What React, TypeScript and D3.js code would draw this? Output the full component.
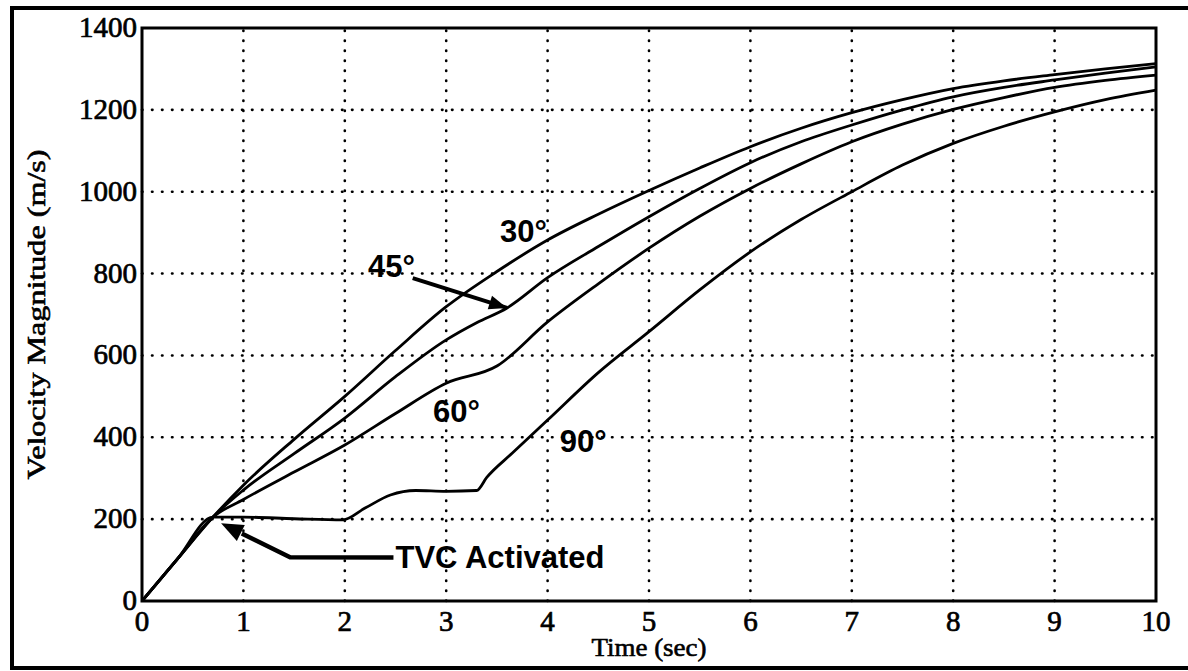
import React from "react";
import * as d3 from "d3";

// ---- data ----
const xTicks = [0, 1, 2, 3, 4, 5, 6, 7, 8, 9, 10];
const yTicks = [0, 200, 400, 600, 800, 1000, 1200, 1400];

const t30 = [0, 0.35, 0.7, 1, 1.5, 2, 2.5, 3, 3.5, 4, 4.5, 5, 5.5, 6, 6.5, 7, 7.5, 8, 8.5, 9, 9.5, 10];
const v30 = [0, 103, 205, 283, 395, 500, 612, 719, 805, 882, 945, 1003, 1058, 1110, 1155, 1193, 1225, 1252, 1271, 1286, 1300, 1313];

const t45 = [0, 0.35, 0.7, 1, 1.5, 2, 2.5, 3, 3.3, 3.6, 4, 4.5, 5, 5.5, 6, 6.5, 7, 7.5, 8, 8.5, 9, 9.5, 10];
const v45 = [0, 103, 205, 271, 360, 447, 548, 638, 680, 716, 790, 866, 939, 1008, 1071, 1122, 1163, 1200, 1232, 1255, 1273, 1290, 1305];

const t60 = [0, 0.35, 0.7, 1, 1.5, 2, 2.5, 3, 3.5, 4, 4.5, 5, 5.5, 6, 6.5, 7, 7.5, 8, 8.5, 9, 9.5, 10];
const v60 = [0, 103, 205, 248, 315, 381, 458, 532, 574, 682, 775, 862, 940, 1008, 1068, 1122, 1165, 1201, 1230, 1255, 1272, 1285];

const t90 = [0, 0.35, 0.7, 1, 1.5, 1.98, 2.2, 2.45, 2.7, 3.0, 3.3, 3.4, 3.65, 4, 4.5, 5, 5.5, 6, 6.5, 7, 7.5, 8, 8.5, 9, 9.5, 10];
const v90 = [0, 103, 205, 205, 201, 198, 227, 259, 270, 268, 270, 302, 361, 442, 558, 658, 760, 853, 932, 1000, 1065, 1118, 1160, 1195, 1225, 1248];

const series = [
  { t: t30, v: v30 },
  { t: t45, v: v45 },
  { t: t60, v: v60 },
  { t: t90, v: v90 },
];

// annotation labels (data coordinates: left edge, baseline)
const annoText = ["30°", "45°", "60°", "90°"];
const annoX = [3.53, 2.23, 2.87, 4.12];
const annoY = [877, 792, 437, 364];

// arrows (data coordinates)
const arrow45 = [[2.67, 789], [3.6, 716]];
const arrowTVC = [[2.48, 106], [1.46, 107], [0.78, 190]];
const tvcText = "TVC Activated";
const tvcPos = [2.48, 81];

const W = 1188;
const H = 671;

function arrowHead(x1: number, y1: number, x2: number, y2: number, len: number, half: number) {
  const dx = x2 - x1, dy = y2 - y1;
  const L = Math.hypot(dx, dy);
  const ux = dx / L, uy = dy / L;
  const bx = x2 - ux * len, by = y2 - uy * len;
  const px = -uy, py = ux;
  return `${x2},${y2} ${bx + px * half},${by + py * half} ${bx - px * half},${by - py * half}`;
}

export default function App() {
  const x = d3.scaleLinear().domain([0, 10]).range([142, 1156]);
  const y = d3.scaleLinear().domain([0, 1400]).range([601, 28]);

  const mk = (t: number[], v: number[]) =>
    d3
      .line<[number, number]>()
      .x((d) => x(d[0]))
      .y((d) => y(d[1]))
      .curve(d3.curveMonotoneX)(t.map((tt, i) => [tt, v[i]] as [number, number]));

  const poly = (pts: number[][]) =>
    d3
      .line<number[]>()
      .x((d) => x(d[0]))
      .y((d) => y(d[1]))(pts);

  const a45s = arrow45.map((p) => [x(p[0]), y(p[1])]);
  const atv = arrowTVC.map((p) => [x(p[0]), y(p[1])]);
  const tvcLinePts = arrowTVC.slice(0, 2).concat([[
    arrowTVC[1][0] + (arrowTVC[2][0] - arrowTVC[1][0]) * 0.7,
    arrowTVC[1][1] + (arrowTVC[2][1] - arrowTVC[1][1]) * 0.7,
  ]]);

  const serif = "'Liberation Serif', 'Times New Roman', serif";
  const sans = "'Liberation Sans', Arial, sans-serif";
  const serifStyle = { fontFamily: serif, stroke: "#000", strokeWidth: 0.7 } as const;

  return (
    <svg
      width={W}
      height={H}
      style={{ position: "absolute", left: 0, top: 0, background: "#fff" }}
    >
      <rect x={0} y={0} width={W} height={H} fill="#fff" />
      {/* outer border */}
      <rect x={12} y={8} width={W + 20} height={660} fill="none" stroke="#000" strokeWidth={4} />

      {/* grid */}
      {xTicks.slice(1, -1).map((t) => (
        <line
          key={"gx" + t}
          x1={x(t)}
          x2={x(t)}
          y1={y(0)}
          y2={y(1400)}
          stroke="#000"
          strokeWidth={2.6}
          strokeDasharray="0.5 9.5"
          strokeLinecap="round"
        />
      ))}
      {yTicks.slice(1, -1).map((t) => (
        <line
          key={"gy" + t}
          x1={x(0)}
          x2={x(10)}
          y1={y(t)}
          y2={y(t)}
          stroke="#000"
          strokeWidth={2.6}
          strokeDasharray="0.5 9.5"
          strokeLinecap="round"
        />
      ))}

      {/* curves */}
      {series.map((s, i) => (
        <path key={"s" + i} d={mk(s.t, s.v) || ""} fill="none" stroke="#000" strokeWidth={2.8} strokeLinejoin="round" />
      ))}

      {/* frame */}
      <rect x={x(0)} y={y(1400)} width={x(10) - x(0)} height={y(0) - y(1400)} fill="none" stroke="#000" strokeWidth={3} />

      {/* tick labels */}
      {yTicks.map((t) => (
        <text
          key={"yl" + t}
          x={x(0) - 5}
          y={y(t) - 1}
          textAnchor="end"
          dominantBaseline="central"
          fontSize={29}
          {...serifStyle}
        >
          {t}
        </text>
      ))}
      {xTicks.map((t) => (
        <text
          key={"xl" + t}
          x={x(t)}
          y={y(0) + 30}
          textAnchor="middle"
          fontSize={29}
          {...serifStyle}
        >
          {t}
        </text>
      ))}

      {/* axis titles */}
      <text
        x={(x(0) + x(10)) / 2}
        y={656}
        textAnchor="middle"
        fontSize={25}
        textLength={115}
        lengthAdjust="spacingAndGlyphs"
        {...serifStyle}
        strokeWidth={0.6}
      >
        Time (sec)
      </text>
      <text
        transform={`translate(45, ${(y(0) + y(1400)) / 2}) rotate(-90)`}
        textAnchor="middle"
        fontSize={25}
        textLength={330}
        lengthAdjust="spacingAndGlyphs"
        {...serifStyle}
        strokeWidth={0.6}
      >
        Velocity Magnitude (m/s)
      </text>

      {/* annotations */}
      {annoText.map((s, i) => (
        <text key={"a" + i} x={x(annoX[i])} y={y(annoY[i])} fontFamily={sans} fontWeight="bold" fontSize={31}>
          {s}
        </text>
      ))}
      <path d={poly(arrow45) || ""} fill="none" stroke="#000" strokeWidth={4} />
      <polygon
        points={arrowHead(a45s[0][0], a45s[0][1], a45s[1][0], a45s[1][1], 18, 7)}
        fill="#000"
      />
      <path d={poly(tvcLinePts) || ""} fill="none" stroke="#000" strokeWidth={4.5} strokeLinejoin="round" />
      <polygon
        points={arrowHead(atv[1][0], atv[1][1], atv[2][0], atv[2][1], 22, 9)}
        fill="#000"
      />
      <text x={x(tvcPos[0]) + 2} y={y(tvcPos[1])} fontFamily={sans} fontWeight="bold" fontSize={31}>
        {tvcText}
      </text>
    </svg>
  );
}
